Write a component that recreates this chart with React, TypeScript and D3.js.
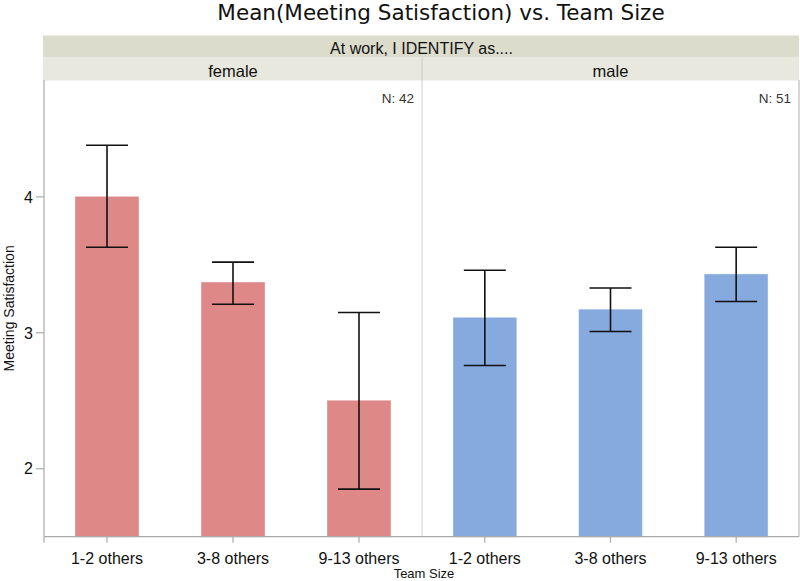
import React from 'react';
import * as d3 from 'd3';

const genders = ['female', 'male'];
const teamSizes = ['1-2 others', '3-8 others', '9-13 others'];
const femaleMeans = [4.0, 3.37, 2.5];
const femaleLow = [3.63, 3.21, 1.85];
const femaleHigh = [4.38, 3.52, 3.15];
const maleMeans = [3.11, 3.17, 3.43];
const maleLow = [2.76, 3.01, 3.23];
const maleHigh = [3.46, 3.33, 3.63];
const counts = [42, 51];
const yTicks = [2, 3, 4];

const width = 800;
const height = 581;
const left = 44;
const right = 799;
const top = 80;
const bottom = 536.7;
const split = 422;

const sans = '"Liberation Sans", Arial, Helvetica, sans-serif';
const barColors = ['#de8887', '#86a9de'];

const App: React.FC = () => {
    const y = d3.scaleLinear().domain([1.5, 4.86]).range([bottom, top]);

    const panels = genders.map((g, i) => ({
        name: g,
        n: counts[i],
        means: i === 0 ? femaleMeans : maleMeans,
        lows: i === 0 ? femaleLow : maleLow,
        highs: i === 0 ? femaleHigh : maleHigh,
        x0: i === 0 ? left : split,
        x1: i === 0 ? split : right,
        color: barColors[i],
    }));

    return (
        <div style={{ position: 'absolute', left: 0, top: 0 }}>
            <svg width={width} height={height} style={{ display: 'block', background: '#fff' }}>
                {/* title */}
                <text x={441} y={20} textAnchor="middle" fontFamily='"DejaVu Sans", sans-serif' fontSize={21.5} fill="#111">
                    Mean(Meeting Satisfaction) vs. Team Size
                </text>

                {/* strip headers */}
                <rect x={left - 1} y={35.5} width={right - left + 1} height={22} fill="#dcdccd" />
                <text x={(left + right) / 2} y={54} textAnchor="middle" fontFamily={sans} fontSize={16} fill="#111">
                    At work, I IDENTIFY as....
                </text>
                {panels.map(p => (
                    <g key={p.name + '-strip'}>
                        <rect x={p.x0 - (p.name === 'female' ? 1 : 0)} y={57.5} width={p.x1 - p.x0 + (p.name === 'female' ? 1 : 0)} height={23} fill="#e8e8df" />
                        <text x={(p.x0 + p.x1) / 2} y={77} textAnchor="middle" fontFamily={sans} fontSize={16.5} fill="#111">
                            {p.name}
                        </text>
                    </g>
                ))}
                <line x1={split} x2={split} y1={57.5} y2={80.5} stroke="#d4d4c8" strokeWidth={1.5} />

                {/* panels */}
                {panels.map(p => {
                    const x = d3.scaleBand<string>()
                        .domain(teamSizes)
                        .range([p.x0, p.x1])
                        .paddingInner(0.5)
                        .paddingOuter(0.25);
                    const bw = x.bandwidth();
                    return (
                        <g key={p.name}>
                            {teamSizes.map((t, j) => (
                                <rect
                                    key={t}
                                    x={x(t)!}
                                    y={y(p.means[j])}
                                    width={bw}
                                    height={bottom - y(p.means[j])}
                                    fill={p.color}
                                    stroke={p.color}
                                    strokeOpacity={0.6}
                                />
                            ))}
                            {teamSizes.map((t, j) => {
                                const cx = x(t)! + bw / 2;
                                return (
                                    <g key={t + '-err'} stroke="#111" strokeWidth={1.6}>
                                        <line x1={cx} x2={cx} y1={y(p.highs[j])} y2={y(p.lows[j])} />
                                        <line x1={cx - 21} x2={cx + 21} y1={y(p.highs[j])} y2={y(p.highs[j])} />
                                        <line x1={cx - 21} x2={cx + 21} y1={y(p.lows[j])} y2={y(p.lows[j])} />
                                    </g>
                                );
                            })}
                            {teamSizes.map(t => {
                                const cx = x(t)! + bw / 2;
                                return (
                                    <g key={t + '-tick'}>
                                        <line x1={cx} x2={cx} y1={bottom} y2={bottom + 6} stroke="#aaa" strokeWidth={1.2} />
                                        <text x={cx} y={564} textAnchor="middle" fontFamily={sans} fontSize={16} fill="#111">
                                            {t}
                                        </text>
                                    </g>
                                );
                            })}
                            <text x={p.x1 - 8} y={103} textAnchor="end" fontFamily={sans} fontSize={13.5} fill="#333">
                                N: {p.n}
                            </text>
                        </g>
                    );
                })}

                {/* frame */}
                <line x1={split} x2={split} y1={top} y2={bottom} stroke="#d0d0d0" strokeWidth={1} />
                <line x1={right} x2={right} y1={top} y2={bottom} stroke="#bbb" strokeWidth={1.2} />
                <line x1={left} x2={left} y1={top} y2={bottom + 6} stroke="#aaa" strokeWidth={1.2} />
                <line x1={left} x2={right} y1={bottom} y2={bottom} stroke="#aaa" strokeWidth={1.2} />

                {/* y axis */}
                {yTicks.map(v => (
                    <g key={v}>
                        <line x1={36} x2={left} y1={y(v)} y2={y(v)} stroke="#aaa" strokeWidth={1.2} />
                        <text x={33} y={y(v)} dy="0.36em" textAnchor="end" fontFamily={sans} fontSize={16} fill="#111">
                            {v}
                        </text>
                    </g>
                ))}
                <text
                    transform={`translate(13.5,${(top + bottom) / 2}) rotate(-90)`}
                    textAnchor="middle"
                    fontFamily={sans}
                    fontSize={14}
                    fill="#111"
                >
                    Meeting Satisfaction
                </text>
                <text x={424} y={578} textAnchor="middle" fontFamily={sans} fontSize={13} fill="#111">
                    Team Size
                </text>
            </svg>
        </div>
    );
};

export default App;
